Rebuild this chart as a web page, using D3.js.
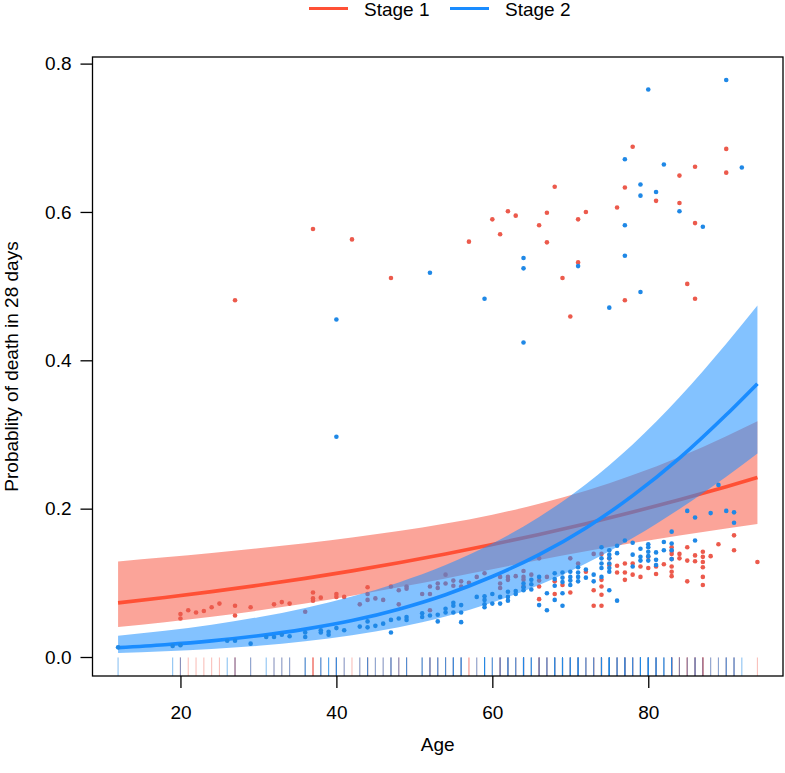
<!DOCTYPE html>
<html><head><meta charset="utf-8">
<script src="https://cdn.jsdelivr.net/npm/d3@7"></script>
<style>
body{margin:0;background:#fff}
svg{display:block}
text{font-family:"Liberation Sans",Arial,Helvetica,sans-serif;fill:#000}
</style>
</head><body>
<svg id="chart" width="785" height="773"></svg>
<script>
// ---------- data ----------
const seriesNames = ["Stage 1", "Stage 2"];
const xTicks = [20, 40, 60, 80];
const yTicks = [0, 0.2, 0.4, 0.6, 0.8];
const xExtent = [12, 94];
const yExtent = [0.0053, 0.778];

// fitted curves
const curveAges    = [12, 18, 24, 30, 36, 42, 48, 54, 60, 66, 72, 78, 84, 90, 94];
const stage1Fit    = [0.0730, 0.0802, 0.0881, 0.0967, 0.1060, 0.1161, 0.1271, 0.1389, 0.1516, 0.1652, 0.1798, 0.1954, 0.2120, 0.2296, 0.2419];
const stage1Lower  = [0.0403, 0.0468, 0.0542, 0.0626, 0.0720, 0.0825, 0.0939, 0.1060, 0.1184, 0.1308, 0.1426, 0.1536, 0.1637, 0.1732, 0.1792];
const stage1Upper  = [0.1289, 0.1344, 0.1402, 0.1465, 0.1534, 0.1611, 0.1698, 0.1799, 0.1919, 0.2065, 0.2241, 0.2453, 0.2698, 0.2977, 0.3180];
const stage2Fit    = [0.0126, 0.0166, 0.0218, 0.0287, 0.0376, 0.0491, 0.0645, 0.0840, 0.1085, 0.1380, 0.1740, 0.2175, 0.2681, 0.3265, 0.3685];
const stage2Lower  = [0.0055, 0.0077, 0.0108, 0.0151, 0.0211, 0.0292, 0.0401, 0.0546, 0.0735, 0.0972, 0.1261, 0.1603, 0.1995, 0.2431, 0.2742];
const stage2Upper  = [0.0287, 0.0354, 0.0436, 0.0537, 0.0662, 0.0816, 0.1005, 0.1239, 0.1529, 0.1888, 0.2330, 0.2866, 0.3501, 0.4224, 0.4739];

// observed points [age, probability]
const stage1Points = [
[27,0.481],[37,0.577],[42,0.563],[47,0.511],[57,0.560],[60,0.590],[61,0.570],[62,0.601],[63,0.595],[66,0.582],[67,0.599],[67,0.559],[68,0.634],[69,0.511],[70,0.459],[71,0.590],[71,0.532],[72,0.600],[76,0.606],[77,0.633],[77,0.481],[78,0.688],[81,0.615],[84,0.649],[84,0.612],[85,0.503],[86,0.661],[86,0.585],[86,0.483],[90,0.685],[90,0.653],
[20,0.058],[20,0.052],[21,0.063],[22,0.060],[23,0.062],[24,0.067],[25,0.072],[27,0.069],[27,0.056],[29,0.067],[32,0.071],[33,0.074],[34,0.072],[36,0.061],[37,0.087],[37,0.079],[37,0.076],[38,0.080],[40,0.085],[40,0.081],[41,0.081],[43,0.071],[44,0.094],[44,0.085],[44,0.077],[45,0.079],
[46,0.077],[47,0.095],[48,0.090],[48,0.071],[49,0.095],[49,0.092],[51,0.085],[52,0.095],[52,0.085],[52,0.063],[53,0.099],[53,0.093],[54,0.111],[54,0.099],[55,0.103],[55,0.096],[56,0.102],[56,0.095],[57,0.100],[58,0.108],[59,0.113],[61,0.108],[61,0.099],[61,0.093],[62,0.108],[62,0.104],[63,0.109],[64,0.116],[64,0.108],[64,0.104],[64,0.095],[65,0.111],[66,0.133],[66,0.103],[66,0.095],[66,0.078],[67,0.108],[68,0.102],[68,0.085],[69,0.097],[70,0.133],[70,0.087],[71,0.126],[72,0.115],[73,0.139],[73,0.090],[73,0.069],[74,0.139],[74,0.104],[74,0.095],[74,0.084],[74,0.069],[75,0.133],[75,0.124],[76,0.123],[76,0.114],[77,0.126],[77,0.114],[77,0.104],[78,0.126],[78,0.111],[79,0.122],[79,0.108],[80,0.135],[80,0.120],[81,0.122],[81,0.112],[82,0.125],[83,0.148],[83,0.143],[83,0.139],[83,0.132],[83,0.122],[83,0.115],[83,0.109],[84,0.139],[84,0.133],[85,0.148],[85,0.130],[85,0.102],[86,0.137],[86,0.129],[87,0.142],[87,0.135],[87,0.128],[87,0.121],[87,0.108],[87,0.097],[88,0.136],[89,0.152],[91,0.164],[91,0.144],[94,0.128]
];
const stage2Points = [
[40,0.455],[40,0.297],[52,0.518],[59,0.483],[64,0.538],[64,0.524],[64,0.424],[71,0.527],[75,0.471],[77,0.671],[77,0.582],[77,0.541],[79,0.637],[79,0.622],[79,0.492],[80,0.765],[81,0.627],[82,0.664],[84,0.601],[87,0.580],[90,0.778],[92,0.660],
[12,0.013],[19,0.015],[20,0.016],[26,0.022],[27,0.022],[29,0.018],[31,0.027],[32,0.027],[33,0.030],[34,0.028],[36,0.033],[36,0.027],[38,0.036],[38,0.033],[39,0.034],[39,0.030],[40,0.039],[41,0.036],[43,0.041],[44,0.048],[44,0.040],[45,0.042],[46,0.045],[47,0.050],[47,0.033],[48,0.052],[49,0.054],[49,0.050],[51,0.059],[51,0.054],[52,0.056],[53,0.057],[53,0.048],[54,0.065],[54,0.060],[55,0.073],[55,0.069],[55,0.060],[56,0.070],[56,0.060],[56,0.047],[58,0.081],[59,0.082],[59,0.077],[59,0.071],[59,0.067],[60,0.085],[60,0.072],[61,0.081],[61,0.072],[62,0.088],[62,0.081],[62,0.076],[63,0.089],[63,0.085],[64,0.099],[64,0.094],[64,0.090],[65,0.104],[65,0.098],[65,0.091],[66,0.108],[66,0.070],[67,0.086],[67,0.063],[68,0.113],[68,0.105],[68,0.096],[68,0.077],[69,0.114],[69,0.107],[69,0.101],[69,0.086],[69,0.069],[70,0.115],[70,0.108],[70,0.103],[70,0.097],[71,0.121],[71,0.114],[71,0.108],[71,0.102],[72,0.118],[72,0.107],[73,0.111],[73,0.102],[74,0.148],[74,0.133],[74,0.126],[74,0.120],[74,0.108],[75,0.144],[75,0.138],[75,0.133],[75,0.126],[75,0.120],[75,0.115],[75,0.090],[76,0.150],[76,0.140],[76,0.076],[77,0.157],[78,0.154],[78,0.138],[78,0.122],[79,0.146],[79,0.135],[79,0.130],[80,0.152],[80,0.148],[80,0.142],[80,0.136],[80,0.130],[81,0.141],[81,0.131],[81,0.124],[82,0.155],[82,0.144],[83,0.169],[83,0.153],[83,0.144],[83,0.132],[85,0.197],[86,0.188],[86,0.157],[88,0.194],[89,0.232],[90,0.197],[91,0.195],[91,0.181]
];

// ---------- styles ----------
const colors = {
  line: ["#FF5035", "#1A8CFF"],
  band: ["rgba(247,80,60,0.52)", "rgba(30,144,255,0.55)"],
  point: ["#EC5A4C", "#1F88E6"],
  rug: ["rgba(240,90,75,0.38)", "rgba(30,136,229,0.5)"]
};
const W = 785, H = 773;
const margin = {left: 92.5, right: 2, top: 57, bottom: 97};
const svg = d3.select("#chart");

function padded(ext) { const d = ext[1] - ext[0]; return [ext[0] - 0.04 * d, ext[1] + 0.04 * d]; }
const x = d3.scaleLinear().domain(padded(xExtent)).range([margin.left, W - margin.right]);
const y = d3.scaleLinear().domain(padded(yExtent)).range([H - margin.bottom, margin.top]);

const plot = svg.append("g");
const clipId = "clipPlot";
svg.append("defs").append("clipPath").attr("id", clipId).append("rect")
  .attr("x", margin.left).attr("y", margin.top)
  .attr("width", W - margin.right - margin.left).attr("height", H - margin.bottom - margin.top);
plot.attr("clip-path", `url(#${clipId})`);

const area = d3.area().x(d => x(d.a)).y0(d => y(d.lo)).y1(d => y(d.hi)).curve(d3.curveMonotoneX);
const line = d3.line().x(d => x(d.a)).y(d => y(d.p)).curve(d3.curveMonotoneX);

const series = [
  {fit: stage1Fit, lo: stage1Lower, hi: stage1Upper, pts: stage1Points},
  {fit: stage2Fit, lo: stage2Lower, hi: stage2Upper, pts: stage2Points}
];

// rug (red first, blue on top)
series.forEach((s, i) => {
  plot.append("g").selectAll("line").data(s.pts).join("line")
    .attr("x1", d => x(d[0])).attr("x2", d => x(d[0]))
    .attr("y1", y.range()[0]).attr("y2", y.range()[0] - 0.03 * (y.range()[0] - y.range()[1]))
    .attr("stroke", colors.rug[i]).attr("stroke-width", 1.1);
});

series.forEach((s, i) => {
  const bandData = curveAges.map((a, k) => ({a, lo: s.lo[k], hi: s.hi[k]}));
  const lineData = curveAges.map((a, k) => ({a, p: s.fit[k]}));
  plot.append("path").datum(bandData).attr("d", area).attr("fill", colors.band[i]);
  plot.append("path").datum(lineData).attr("d", line).attr("fill", "none")
    .attr("stroke", colors.line[i]).attr("stroke-width", 3.6);
  plot.append("g").selectAll("circle").data(s.pts).join("circle")
    .attr("cx", d => x(d[0])).attr("cy", d => y(d[1])).attr("r", 2.3)
    .attr("fill", colors.point[i]);
});

// box
svg.append("rect")
  .attr("x", margin.left).attr("y", margin.top)
  .attr("width", W - margin.right - margin.left).attr("height", H - margin.bottom - margin.top)
  .attr("fill", "none").attr("stroke", "#000").attr("stroke-width", 1.3);

// axes
const fs = 19;
const xAxis = svg.append("g").attr("transform", `translate(0,${H - margin.bottom})`)
  .call(d3.axisBottom(x).tickValues(xTicks).tickSize(12).tickPadding(18).tickSizeOuter(0));
const yAxis = svg.append("g").attr("transform", `translate(${margin.left},0)`)
  .call(d3.axisLeft(y).tickValues(yTicks).tickFormat(d3.format(".1f")).tickSize(12).tickPadding(9).tickSizeOuter(0));
[xAxis, yAxis].forEach(g => {
  g.select(".domain").remove();
  g.selectAll("line").attr("stroke", "#000").attr("stroke-width", 1.3);
  g.selectAll("text").attr("font-size", fs).attr("font-family", '"Liberation Sans",Arial,sans-serif').attr("fill", "#000");
});

// axis titles
svg.append("text").attr("x", (margin.left + W - margin.right) / 2).attr("y", 751)
  .attr("text-anchor", "middle").attr("font-size", fs).text("Age");
svg.append("text")
  .attr("transform", `translate(18,${(margin.top + H - margin.bottom) / 2}) rotate(-90)`)
  .attr("text-anchor", "middle").attr("font-size", fs).text("Probablity of death in 28 days");

// legend
const legendX = [309, 450];
const lg = svg.append("g");
seriesNames.forEach((name, i) => {
  lg.append("line").attr("x1", legendX[i]).attr("x2", legendX[i] + 39)
    .attr("y1", 8.5).attr("y2", 8.5).attr("stroke", colors.line[i]).attr("stroke-width", 3.2);
  lg.append("text").attr("x", legendX[i] + 55).attr("y", 15.5)
    .attr("font-size", fs).text(name);
});
</script>
</body></html>
